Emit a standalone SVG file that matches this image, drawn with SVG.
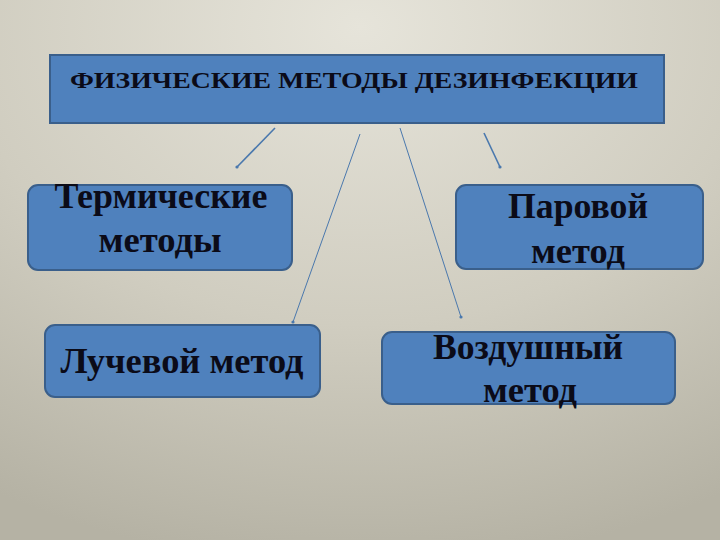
<svg xmlns="http://www.w3.org/2000/svg" width="720" height="540" viewBox="0 0 720 540">
<defs>
<radialGradient id="bg" cx="50%" cy="5%" r="100%" fx="50%" fy="5%">
<stop offset="0" stop-color="#e6e4da"/>
<stop offset="0.55" stop-color="#d0cdc0"/>
<stop offset="1" stop-color="#b5b2a4"/>
</radialGradient>
<marker id="dot" markerWidth="4" markerHeight="4" refX="2" refY="2" markerUnits="userSpaceOnUse">
<circle cx="2" cy="2" r="1.6" fill="#4a78ad"/>
</marker>
</defs>
<style>
.box{fill:#4f81bd;stroke:#3a5f8b;stroke-width:2}
.t{font-family:"Liberation Serif","Times New Roman",serif;font-weight:bold;fill:#0b0b18;text-anchor:middle}
.big{font-size:35px}
.title{font-size:23px}
.con{stroke:#4a78ad;fill:none;marker-end:url(#dot)}
</style>
<rect width="720" height="540" fill="url(#bg)"/>
<g id="title">
<rect class="box" x="50" y="55" width="614" height="68"/>
<text class="t title" x="354" y="88" textLength="568" lengthAdjust="spacingAndGlyphs">ФИЗИЧЕСКИЕ МЕТОДЫ ДЕЗИНФЕКЦИИ</text>
</g>
<g id="connectors">
<line class="con" x1="275" y1="128" x2="237" y2="167" stroke-width="1.6"/>
<line class="con" x1="360" y1="134" x2="293" y2="322" stroke-width="1"/>
<line class="con" x1="400" y1="128" x2="461" y2="317" stroke-width="1"/>
<line class="con" x1="484" y1="133" x2="500" y2="167" stroke-width="1.6"/>
</g>
<g id="thermal">
<rect class="box" x="28" y="185" width="264" height="85" rx="10"/>
<text class="t big" x="161" y="208" textLength="213" lengthAdjust="spacingAndGlyphs">Термические</text>
<text class="t big" x="160" y="252" textLength="123" lengthAdjust="spacingAndGlyphs">методы</text>
</g>
<g id="steam">
<rect class="box" x="456" y="185" width="247" height="84" rx="10"/>
<text class="t big" x="578" y="218" textLength="140" lengthAdjust="spacingAndGlyphs">Паровой</text>
<text class="t big" x="578" y="263" textLength="94" lengthAdjust="spacingAndGlyphs">метод</text>
</g>
<g id="radiation">
<rect class="box" x="45" y="325" width="275" height="72" rx="10"/>
<text class="t big" x="182" y="373" textLength="243" lengthAdjust="spacingAndGlyphs">Лучевой метод</text>
</g>
<g id="air">
<rect class="box" x="382" y="332" width="293" height="72" rx="10"/>
<text class="t big" x="528" y="359" textLength="190" lengthAdjust="spacingAndGlyphs">Воздушный</text>
<text class="t big" x="530" y="402" textLength="94" lengthAdjust="spacingAndGlyphs">метод</text>
</g>
</svg>
